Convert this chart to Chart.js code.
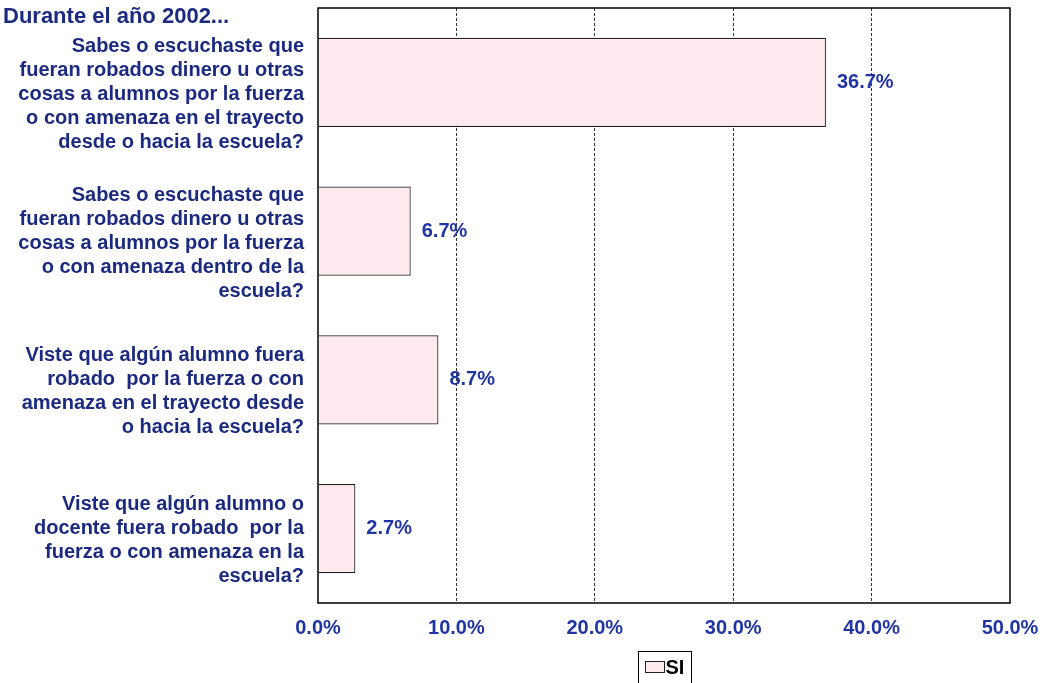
<!DOCTYPE html>
<html>
<head>
<meta charset="utf-8">
<style>
  html, body { margin: 0; padding: 0; background: #fff; }
  #wrap { position: relative; width: 1047px; height: 683px; }
  #title { position: absolute; left: 3px; top: 3px; line-height: 25px; font: bold 22px "Liberation Sans", Arial, sans-serif; color: #1b2a80; }
  canvas { display: block; }
</style>
<script src="https://cdn.jsdelivr.net/npm/chart.js@4"></script>
</head>
<body>
<div id="wrap">
  <canvas id="chart" width="1047" height="683"></canvas>
  <div id="title">Durante el año 2002...</div>
</div>
<script>
// ===== DATA =====
const categories = [
  ['Sabes o escuchaste que', 'fueran robados dinero u otras', 'cosas a alumnos por la fuerza', 'o con amenaza en el trayecto', 'desde o hacia la escuela?'],
  ['Sabes o escuchaste que', 'fueran robados dinero u otras', 'cosas a alumnos por la fuerza', 'o con amenaza dentro de la', 'escuela?'],
  ['Viste que algún alumno fuera', 'robado  por la fuerza o con', 'amenaza en el trayecto desde', 'o hacia la escuela?'],
  ['Viste que algún alumno o', 'docente fuera robado  por la', 'fuerza o con amenaza en la', 'escuela?'],
];
const siValues = [36.7, 6.7, 8.7, 2.7];
const seriesName = 'SI';
const xTicks = [0, 10, 20, 30, 40, 50];

const FONT = '"Liberation Sans", Arial, sans-serif';
const NAVY = '#1b2a80';
const BLUE = '#2035a5';
const BAR_FILL = '#ffe9ee';

// ===== PLUGINS =====
// marco del area de grafico
const frame = {
  id: 'frame',
  afterDatasetsDraw(chart) {
    const { ctx, chartArea: a } = chart;
    ctx.save();
    ctx.strokeStyle = '#000';
    ctx.lineWidth = 1.5;
    ctx.strokeRect(a.left, a.top, a.right - a.left, a.bottom - a.top);
    ctx.restore();
  }
};

// etiquetas de valor al final de cada barra
const valueLabels = {
  id: 'valueLabels',
  afterDatasetsDraw(chart) {
    const { ctx } = chart;
    const meta = chart.getDatasetMeta(0);
    ctx.save();
    ctx.font = 'bold 20px ' + FONT;
    ctx.fillStyle = BLUE;
    ctx.textAlign = 'left';
    ctx.textBaseline = 'middle';
    meta.data.forEach((bar, i) => {
      ctx.fillText(siValues[i].toFixed(1) + '%', bar.x + 11, bar.y);
    });
    ctx.restore();
  }
};

// leyenda con recuadro, centrada bajo el area de grafico
const boxLegend = {
  id: 'boxLegend',
  afterDraw(chart) {
    const { ctx, chartArea: a } = chart;
    const cx = (a.left + a.right) / 2;
    const w = 53, h = 32;
    const x0 = Math.round(cx - w / 2) + 0.5, y0 = 651.5;
    ctx.save();
    ctx.strokeStyle = '#000';
    ctx.lineWidth = 1;
    ctx.strokeRect(x0, y0, w, h);
    ctx.fillStyle = BAR_FILL;
    ctx.fillRect(x0 + 7, y0 + 10, 19, 11);
    ctx.strokeStyle = '#222';
    ctx.strokeRect(x0 + 7, y0 + 10, 19, 11);
    ctx.fillStyle = '#000';
    ctx.font = 'bold 20px ' + FONT;
    ctx.textAlign = 'left';
    ctx.textBaseline = 'middle';
    ctx.fillText(seriesName, x0 + 27, y0 + 17);
    ctx.restore();
  }
};

new Chart(document.getElementById('chart'), {
  type: 'bar',
  data: {
    labels: categories,
    datasets: [{
      label: seriesName,
      data: siValues,
      backgroundColor: BAR_FILL,
      borderColor: '#222',
      borderWidth: 1.2,
      categoryPercentage: 0.6,
      barPercentage: 1.0,
    }]
  },
  options: {
    indexAxis: 'y',
    responsive: false,
    animation: false,
    layout: { padding: { top: 8, right: 37, left: 0, bottom: 30 } },
    plugins: {
      tooltip: { enabled: false },
      legend: { display: false }
    },
    scales: {
      x: {
        min: 0,
        max: 50,
        afterBuildTicks(scale) { scale.ticks = xTicks.map(v => ({ value: v })); },
        ticks: {
          color: BLUE,
          padding: 13,
          maxRotation: 0,
          font: { family: FONT, size: 20, weight: 'bold' },
          callback: v => v.toFixed(1) + '%',
        },
        grid: {
          drawTicks: false,
          color: ctx => (ctx.tick && ctx.tick.value > 0 && ctx.tick.value < 50) ? '#333' : 'rgba(0,0,0,0)',
          lineWidth: 1,
        },
        border: { display: false, dash: [3, 2] },
        afterFit(scale) {
          scale.paddingLeft = 0;
          scale.paddingRight = 0;
        },
      },
      y: {
        ticks: {
          color: NAVY,
          padding: 14,
          labelOffset: 12,
          font: { family: FONT, size: 20, weight: 'bold', lineHeight: 1.2 },
        },
        grid: { display: false, drawTicks: false },
        border: { display: false },
        afterFit(scale) {
          scale.width = 318;
          scale.paddingTop = 0;
          scale.paddingBottom = 0;
        },
      }
    }
  },
  plugins: [frame, valueLabels, boxLegend]
});
</script>
</body>
</html>
